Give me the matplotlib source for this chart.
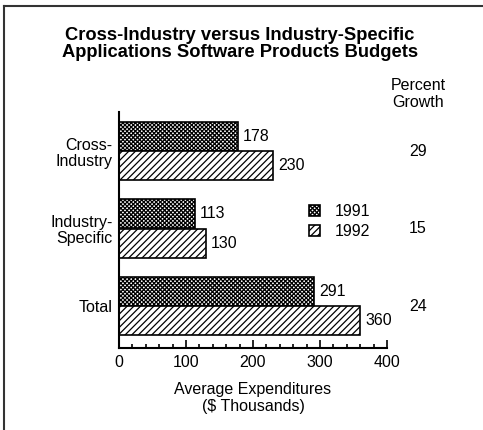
import matplotlib
matplotlib.use('Agg')
import matplotlib.pyplot as plt
from matplotlib.lines import Line2D
from matplotlib.patches import Patch
import numpy as np

plt.rcParams['font.family'] = ['Liberation Sans', 'DejaVu Sans']
plt.rcParams['hatch.linewidth'] = 0.9

# Data
categories = ["Cross-\nIndustry", "Industry-\nSpecific", "Total"]
values_1991 = [178, 113, 291]
values_1992 = [230, 130, 360]
growth = ["29", "15", "24"]
years = ["1991", "1992"]

FS = 11.5
HATCH_91 = 'x' * 8
HATCH_92 = '/////'

fig = plt.figure(figsize=(4.83, 4.30), dpi=100)
ax = fig.add_axes([0.2464, 0.1907, 0.5548, 0.5488])

y = np.arange(len(categories))
h = 0.375
off = 0.19
b1 = ax.barh(y - off, values_1991, height=h, color='white', edgecolor='black',
             hatch=HATCH_91, linewidth=1.2)
b2 = ax.barh(y + off, values_1992, height=h, color='white', edgecolor='black',
             hatch=HATCH_92, linewidth=1.2)

# value labels
for bars, vals in ((b1, values_1991), (b2, values_1992)):
    for bar, v in zip(bars, vals):
        ax.annotate(str(v), (bar.get_width(), bar.get_y() + bar.get_height() / 2),
                    xytext=(3.5, 0), textcoords='offset points',
                    ha='left', va='center', fontsize=FS)

ax.set_xlim(0, 400)
ax.set_ylim(2.54, -0.503)
ax.set_yticks(y)
ax.set_yticklabels(categories, fontsize=FS, ha='right', linespacing=1.1)
ax.tick_params(axis='y', length=0, pad=4.5)
ax.set_xticks([0, 100, 200, 300, 400])
ax.set_xticks(np.arange(0, 401, 20), minor=True)
ax.tick_params(axis='x', which='major', direction='in', length=6, width=1.2,
               pad=5, labelsize=FS)
ax.tick_params(axis='x', which='minor', direction='in', length=3, width=1.2)
ax.set_xlabel("Average Expenditures\n($ Thousands)", fontsize=FS, labelpad=9,
              linespacing=1.15)

for s in ('top', 'right'):
    ax.spines[s].set_visible(False)
for s in ('left', 'bottom'):
    ax.spines[s].set_linewidth(1.5)

# percent growth column
tr = ax.get_yaxis_transform()
ax.text(1.116, 1.076, "Percent\nGrowth", transform=ax.transAxes, ha='center',
        va='center', fontsize=FS, linespacing=1.1)
for i, g in enumerate(growth):
    ax.text(1.116, y[i], g, transform=tr, ha='center', va='center', fontsize=FS,
            clip_on=False)

# legend
handles = [Patch(facecolor='white', edgecolor='black', hatch=HATCH_91, linewidth=1.2),
           Patch(facecolor='white', edgecolor='black', hatch=HATCH_92, linewidth=1.2)]
fig.legend(handles, years, loc='upper left', bbox_to_anchor=(309 / 483, 1 - 204 / 430),
           frameon=False, fontsize=FS, handlelength=0.7, handleheight=0.7,
           handletextpad=0.9, labelspacing=0.3, borderpad=0, borderaxespad=0)

# title
fig.text(0.497, 1 - 44 / 430,
         "Cross-Industry versus Industry-Specific\nApplications Software Products Budgets",
         ha='center', va='center', fontsize=13.2, fontweight='bold', linespacing=1.0)

# frame lines (top and left)
fig.add_artist(Line2D([4 / 483, 1], [1 - 6 / 430, 1 - 6 / 430], color='#333333', lw=1.5))
fig.add_artist(Line2D([4 / 483, 4 / 483], [0, 1 - 6 / 430], color='#333333', lw=1.5))

fig.savefig("out.png", dpi=100)
